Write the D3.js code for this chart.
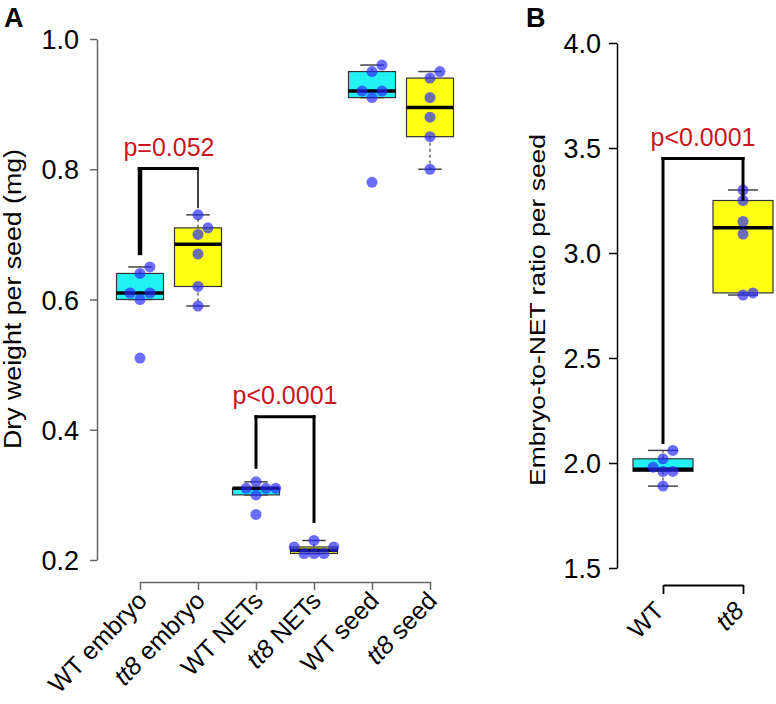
<!DOCTYPE html>
<html>
<head>
<meta charset="utf-8">
<script src="https://cdn.jsdelivr.net/npm/d3@7"></script>
<style>
  body { margin: 0; background: #fff; }
  text { font-family: "Liberation Sans", Arial, Helvetica, sans-serif; }
</style>
</head>
<body>
<div id="chart"></div>
<script>
// panel A: dry weight per seed (mg)
const groupsA = ["WT embryo", "tt8 embryo", "WT NETs", "tt8 NETs", "WT seed", "tt8 seed"];
const genotypeA = ["WT", "tt8", "WT", "tt8", "WT", "tt8"];
const valuesA = [
    [0.51, 0.60, 0.61, 0.61, 0.64, 0.65],
    [0.59, 0.62, 0.67, 0.70, 0.71, 0.73],
    [0.27, 0.30, 0.31, 0.31, 0.31, 0.32],
    [0.21, 0.21, 0.21, 0.22, 0.22, 0.23],
    [0.78, 0.91, 0.92, 0.92, 0.95, 0.96],
    [0.80, 0.85, 0.88, 0.91, 0.94, 0.95]
];
const ticksA = [0.2, 0.4, 0.6, 0.8, 1.0];

// panel B: embryo-to-NET ratio per seed
const groupsB = ["WT", "tt8"];
const valuesB = [
    [1.89, 1.96, 1.96, 1.98, 2.02, 2.06],
    [2.80, 2.81, 3.09, 3.15, 3.25, 3.30]
];
const ticksB = [1.5, 2.0, 2.5, 3.0, 3.5, 4.0];

// significance brackets: [group index 1, group index 2, label]
const signifA = [[0, 1, "p=0.052"], [2, 3, "p<0.0001"]];
const signifB = [[0, 1, "p<0.0001"]];

const fill = { WT: "#22f2f2", tt8: "#ffff14" };
const red = "#c8161d";

const svg = d3.select("#chart").append("svg")
    .attr("width", 776)
    .attr("height", 704)
    .style("background", "#fff");

// R's fivenum + whisker limits
function boxStats(vals) {
    const x = vals.slice().sort((a, b) => a - b);
    const n = x.length;
    const n4 = Math.floor((n + 3) / 2) / 2;
    const idx = [1, n4, (n + 1) / 2, n + 1 - n4, n];
    const f = idx.map(i => 0.5 * (x[Math.floor(i) - 1] + x[Math.ceil(i) - 1]));
    const iqr = f[3] - f[1];
    const inside = x.filter(v => v >= f[1] - 1.5 * iqr && v <= f[3] + 1.5 * iqr);
    return { q1: f[1], med: f[2], q3: f[3], lo: d3.min(inside), hi: d3.max(inside) };
}

// simple beeswarm so the dots do not sit on top of each other
function swarm(vals, y, r) {
    const placed = [];
    return vals.slice().sort((a, b) => a - b).map(v => {
        const py = y(v);
        const offs = [0, 1, -1, 2, -2, 3, -3];
        let ox = 0;
        for (const k of offs) {
            const cx = k * r * 1.8;
            if (placed.every(p => Math.hypot(p.x - cx, p.y - py) >= r * 1.6)) { ox = cx; break; }
        }
        placed.push({ x: ox, y: py });
        return { v: v, dx: ox };
    });
}

function drawBoxes(g, groups, geno, values, x, y, boxW) {
    groups.forEach((name, i) => {
        const s = boxStats(values[i]);
        const cx = x(name);
        const gg = g.append("g");
        // whiskers
        [[s.q3, s.hi], [s.q1, s.lo]].forEach(([a, b]) => {
            gg.append("line")
                .attr("x1", cx).attr("x2", cx)
                .attr("y1", y(a)).attr("y2", y(b))
                .attr("stroke", "#444").attr("stroke-width", 1.2)
                .attr("stroke-dasharray", "3,3");
            gg.append("line")
                .attr("x1", cx - boxW / 4).attr("x2", cx + boxW / 4)
                .attr("y1", y(b)).attr("y2", y(b))
                .attr("stroke", "#444").attr("stroke-width", 1.5);
        });
        gg.append("rect")
            .attr("x", cx - boxW / 2)
            .attr("y", y(s.q3))
            .attr("width", boxW)
            .attr("height", Math.max(1, y(s.q1) - y(s.q3)))
            .attr("fill", fill[geno[i]])
            .attr("stroke", "#333")
            .attr("stroke-width", 1.2);
        gg.append("line")
            .attr("x1", cx - boxW / 2).attr("x2", cx + boxW / 2)
            .attr("y1", y(s.med)).attr("y2", y(s.med))
            .attr("stroke", "#000").attr("stroke-width", 3.5);
        // points
        gg.selectAll("circle")
            .data(swarm(values[i], y, 5.5))
            .enter()
            .append("circle")
            .attr("cx", d => cx + d.dx)
            .attr("cy", d => y(d.v))
            .attr("r", 5.5)
            .attr("fill", "#2626ff")
            .attr("fill-opacity", 0.68);
    });
}

function drawBracket(g, x, y, groups, s, top, legs) {
    const [a, b, label] = s;
    const xa = x(groups[a]), xb = x(groups[b]);
    const ya = y(top), y1 = y(legs[0]), y2 = y(legs[1]);
    g.append("line").attr("x1", xa).attr("x2", xa).attr("y1", y1).attr("y2", ya - 1.5)
        .attr("stroke", "#000").attr("stroke-width", legs[2]);
    g.append("line").attr("x1", xa - legs[2] / 2).attr("x2", xb + legs[3] / 2).attr("y1", ya).attr("y2", ya)
        .attr("stroke", "#000").attr("stroke-width", 3);
    g.append("line").attr("x1", xb).attr("x2", xb).attr("y1", y2).attr("y2", ya - 1.5)
        .attr("stroke", "#000").attr("stroke-width", legs[3]);
    g.append("text")
        .attr("x", (xa + xb) / 2)
        .attr("y", ya - 13)
        .attr("text-anchor", "middle")
        .attr("fill", red)
        .style("font-size", "25px")
        .text(label);
}

function italicLabel(sel, name) {
    const parts = name.split(" ");
    sel.text(null);
    parts.forEach((p, k) => {
        sel.append("tspan")
            .style("font-style", p === "tt8" ? "italic" : "normal")
            .text((k > 0 ? " " : "") + p);
    });
}

const tickFont = "'Liberation Sans', Arial, sans-serif";

// ---------- panel A ----------
const yA = d3.scaleLinear().domain([0.2, 1.0]).range([560, 39]);
const xA = d3.scalePoint().domain(groupsA).range([140, 430]);
const gA = svg.append("g");

gA.append("g")
    .attr("transform", "translate(97,0)")
    .call(d3.axisLeft(yA).tickValues(ticksA).tickFormat(d3.format(".1f")).tickSize(7).tickSizeOuter(0))
    .call(g => g.selectAll("path,line").attr("stroke", "#666").attr("stroke-width", 1.5))
    .call(g => g.selectAll("text").attr("fill", "#000").attr("x", -18).attr("dy", "0.36em")
        .style("font-size", "27px").style("font-family", tickFont));

gA.append("g")
    .attr("transform", "translate(0,582)")
    .call(d3.axisBottom(xA).tickSize(8).tickSizeOuter(0))
    .call(g => g.selectAll("path,line").attr("stroke", "#666").attr("stroke-width", 1.5))
    .call(g => g.selectAll("text")
        .attr("fill", "#000")
        .attr("text-anchor", "end")
        .attr("x", 0).attr("y", 0).attr("dy", 0)
        .attr("transform", "translate(8,20) rotate(-46)")
        .style("font-size", "25px")
        .style("font-family", tickFont)
        .each(function (d) { italicLabel(d3.select(this), d); }));

svg.append("text")
    .attr("transform", "translate(21,299) rotate(-90)")
    .attr("text-anchor", "middle")
    .attr("textLength", 300)
    .attr("lengthAdjust", "spacingAndGlyphs")
    .style("font-size", "23px")
    .text("Dry weight per seed (mg)");

drawBoxes(gA, groupsA, genotypeA, valuesA, xA, yA, 47);
drawBracket(gA, xA, yA, groupsA, signifA[0], 0.801, [0.668, 0.74, 4.5, 1.5]);
drawBracket(gA, xA, yA, groupsA, signifA[1], 0.42, [0.34, 0.257, 3, 3]);

svg.append("text").attr("x", 4).attr("y", 27)
    .style("font-size", "27px").style("font-weight", "bold").text("A");

// ---------- panel B ----------
const yB = d3.scaleLinear().domain([1.5, 4.0]).range([568, 43]);
const xB = d3.scalePoint().domain(groupsB).range([663, 743]);
const gB = svg.append("g");

gB.append("g")
    .attr("transform", "translate(617,0)")
    .call(d3.axisLeft(yB).tickValues(ticksB).tickFormat(d3.format(".1f")).tickSize(8).tickSizeOuter(0))
    .call(g => g.selectAll("path,line").attr("stroke", "#000").attr("stroke-width", 1.5))
    .call(g => g.selectAll("text").attr("fill", "#000").attr("x", -16).attr("dy", "0.36em")
        .style("font-size", "27px").style("font-family", tickFont));

gB.append("g")
    .attr("transform", "translate(0,585)")
    .call(d3.axisBottom(xB).tickSize(9).tickSizeOuter(0))
    .call(g => g.selectAll("path,line").attr("stroke", "#000").attr("stroke-width", 1.8))
    .call(g => g.selectAll("text")
        .attr("fill", "#000")
        .attr("text-anchor", "end")
        .attr("x", 0).attr("y", 0).attr("dy", 0)
        .attr("transform", "translate(2,27) rotate(-46)")
        .style("font-size", "25px")
        .style("font-family", tickFont)
        .each(function (d) { italicLabel(d3.select(this), d); }));

svg.append("text")
    .attr("transform", "translate(545,310) rotate(-90)")
    .attr("text-anchor", "middle")
    .attr("textLength", 352)
    .attr("lengthAdjust", "spacingAndGlyphs")
    .style("font-size", "22px")
    .text("Embryo-to-NET ratio per seed");

drawBoxes(gB, groupsB, groupsB, valuesB, xB, yB, 60);
drawBracket(gB, xB, yB, groupsB, signifB[0], 3.45, [2.09, 3.25, 3, 3]);

svg.append("text").attr("x", 526).attr("y", 27)
    .style("font-size", "27px").style("font-weight", "bold").text("B");
</script>
</body>
</html>
